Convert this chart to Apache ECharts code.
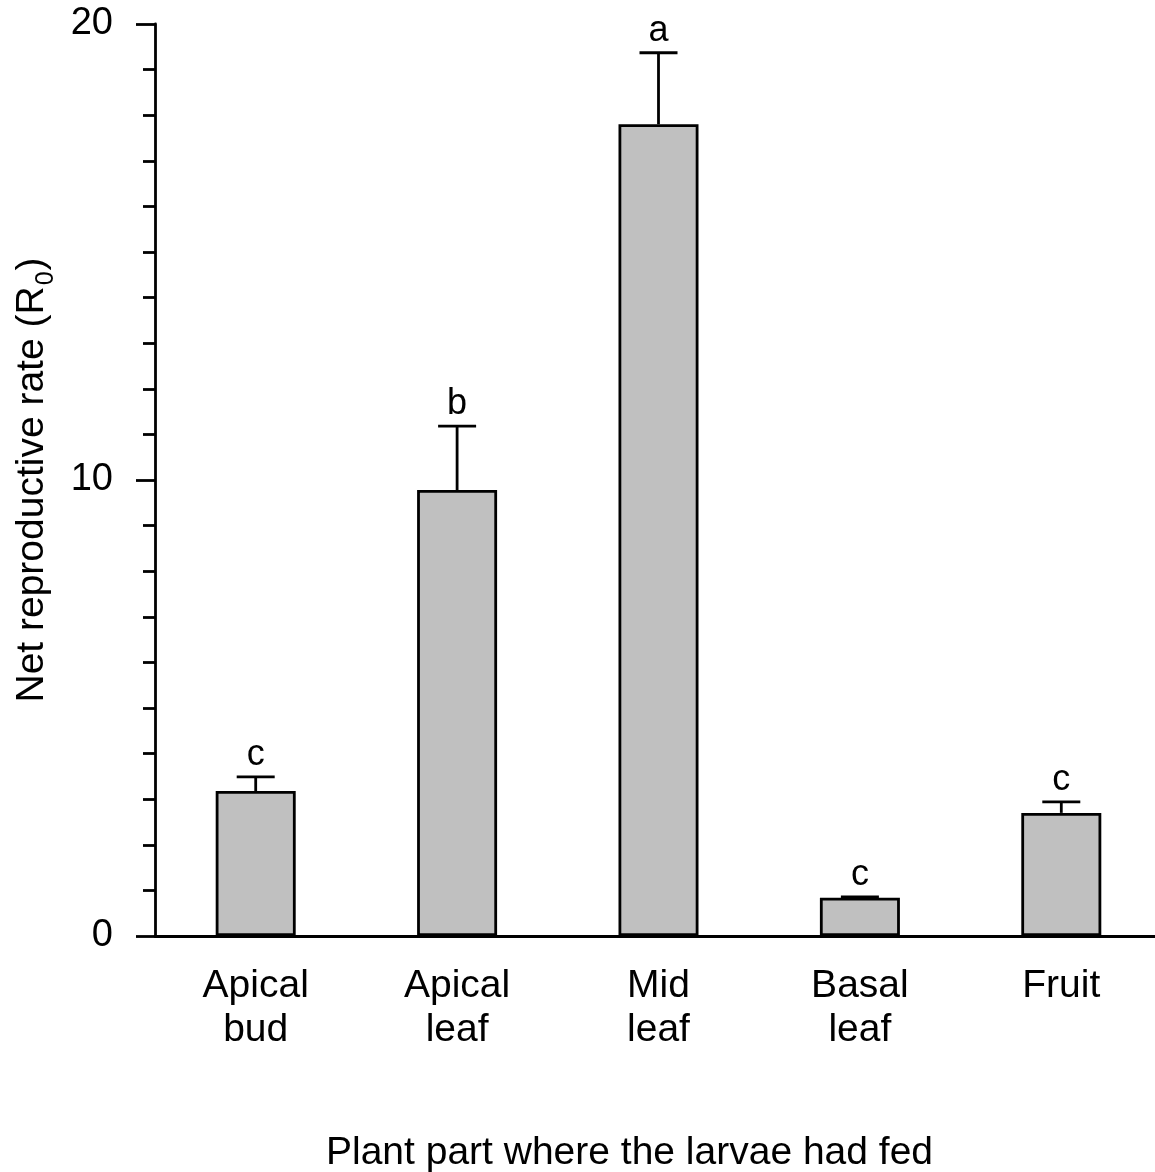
<!DOCTYPE html>
<html>
<head>
<meta charset="utf-8">
<script src="https://cdn.jsdelivr.net/npm/echarts@6/dist/echarts.min.js"></script>
<style>
  html, body { margin: 0; padding: 0; background: #fff; }
  #chart { width: 1155px; height: 1172px; }
</style>
</head>
<body>
<div id="chart"></div>
<script>
// plant parts and mean R0 with upper error (mean + SE)
const parts = ['Apical\nbud', 'Apical\nleaf', 'Mid\nleaf', 'Basal\nleaf', 'Fruit'];
const r0Mean = [3.18, 9.78, 17.80, 0.84, 2.70];
const r0Upper = [3.49, 11.18, 19.37, 0.86, 2.94];
const groupLetters = ['c', 'b', 'a', 'c', 'c'];

const FONT = 'Liberation Sans, Arial, sans-serif';
const LW = 2.8;

const chart = echarts.init(document.getElementById('chart'), null, { renderer: 'canvas' });

const errData = parts.map((p, i) => [i, r0Mean[i], r0Upper[i]]);

chart.setOption({
  backgroundColor: '#fff',
  animation: false,
  grid: { left: 155, top: 24, width: 1007, bottom: 236, outerBoundsMode: 'none' },
  xAxis: {
    type: 'category', data: parts,
    axisLine: { lineStyle: { color: '#000', width: LW } },
    axisTick: { alignWithLabel: true, length: 18, lineStyle: { color: '#000', width: LW } },
    axisLabel: { color: '#000', fontSize: 39, fontFamily: FONT, lineHeight: 44, margin: 28 },
    name: 'Plant part where the larvae had fed',
    nameLocation: 'middle', nameGap: 198,
    nameTextStyle: { color: '#000', fontSize: 39, fontFamily: FONT, padding: [0, 58, 0, 0] }
  },
  yAxis: {
    type: 'value', min: 0, max: 20, interval: 10,
    splitLine: { show: false },
    axisLine: { show: true, lineStyle: { color: '#000', width: LW } },
    axisTick: { show: true, length: 19, lineStyle: { color: '#000', width: LW } },
    minorTick: { show: true, splitNumber: 10, length: 12, lineStyle: { color: '#000', width: LW } },
    axisLabel: { color: '#000', fontSize: 38, fontFamily: FONT, margin: 42 },
    name: '{t|Net reproductive rate (R}{s|0}{t|)}',
    nameLocation: 'middle', nameGap: 96, nameRotate: 90,
    nameTextStyle: {
      color: '#000', fontFamily: FONT,
      rich: {
        t: { fontSize: 39, fontFamily: FONT, color: '#000' },
        s: { fontSize: 25, fontFamily: FONT, color: '#000', padding: [28, 1, 0, 1] }
      }
    }
  },
  series: [
    {
      type: 'bar', data: r0Mean, barWidth: 80,
      itemStyle: { color: '#c0c0c0', borderColor: '#000', borderWidth: LW }
    },
    {
      type: 'custom', data: errData, z: 3,
      renderItem: (params, api) => {
        const x = api.value(0);
        const top = api.coord([x, api.value(1)]);
        const hi = api.coord([x, api.value(2)]);
        const half = 19;
        return {
          type: 'group',
          children: [
            { type: 'line', shape: { x1: top[0], y1: top[1], x2: hi[0], y2: hi[1] }, style: { stroke: '#000', lineWidth: LW } },
            { type: 'line', shape: { x1: hi[0] - half, y1: hi[1], x2: hi[0] + half, y2: hi[1] }, style: { stroke: '#000', lineWidth: LW } },
            { type: 'text', x: hi[0], y: hi[1] - 4, style: { text: groupLetters[params.dataIndex], fill: '#000', font: '36px ' + FONT, align: 'center', verticalAlign: 'bottom' } }
          ]
        };
      }
    }
  ]
});
</script>
</body>
</html>
